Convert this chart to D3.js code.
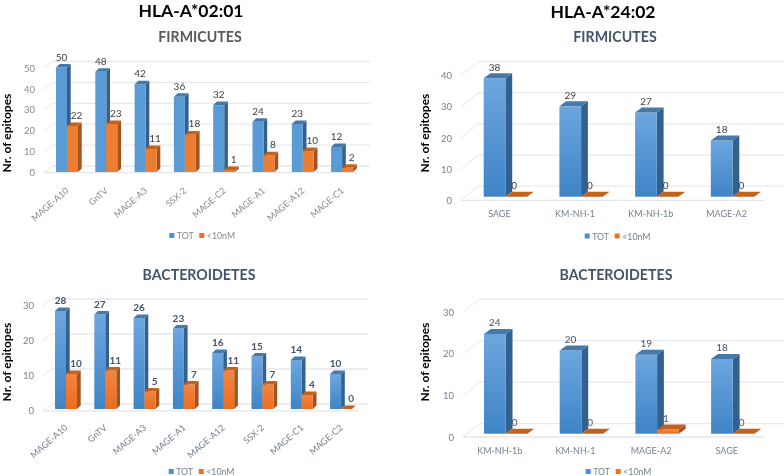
<!DOCTYPE html>
<html>
<head>
<meta charset="utf-8">
<script src="https://cdn.jsdelivr.net/npm/d3@7"></script>
<style>
	html, body { margin: 0; padding: 0; background: #fff; }
	svg { display: block; filter: blur(0.3px); }
	text { font-family: Lato, "Open Sans", sans-serif; }
</style>
</head>
<body>
<svg></svg>
<script>
//chart values
const seriesNames = ["TOT", "<10nM"];

const a0201FirmCategories = ["MAGE-A10", "GnTV", "MAGE-A3", "SSX-2", "MAGE-C2", "MAGE-A1", "MAGE-A12", "MAGE-C1"];
const a0201FirmTot = [50, 48, 42, 36, 32, 24, 23, 12];
const a0201FirmLow = [22, 23, 11, 18, 1, 8, 10, 2];
const a0201FirmTicks = [0, 10, 20, 30, 40, 50];

const a0201BactCategories = ["MAGE-A10", "GnTV", "MAGE-A3", "MAGE-A1", "MAGE-A12", "SSX-2", "MAGE-C1", "MAGE-C2"];
const a0201BactTot = [28, 27, 26, 23, 16, 15, 14, 10];
const a0201BactLow = [10, 11, 5, 7, 11, 7, 4, 0];
const a0201BactTicks = [0, 10, 20, 30];

const a2402FirmCategories = ["SAGE", "KM-NH-1", "KM-NH-1b", "MAGE-A2"];
const a2402FirmTot = [38, 29, 27, 18];
const a2402FirmLow = [0, 0, 0, 0];
const a2402FirmTicks = [0, 10, 20, 30, 40];

const a2402BactCategories = ["KM-NH-1b", "KM-NH-1", "MAGE-A2", "SAGE"];
const a2402BactTot = [24, 20, 19, 18];
const a2402BactLow = [0, 0, 1, 0];
const a2402BactTicks = [0, 10, 20, 30];

const [w, h] = [784, 476];
const slate = "#44546a";

const headings = [
	{text: "HLA-A*02:01", x: 191, y: 10},
	{text: "HLA-A*24:02", x: 603, y: 11.5}
];

//Where each panel sits on the page
const panels = [
	{
		title: "FIRMICUTES", titleX: 200, titleY: 36, titleColor: "#595959",
		categories: a0201FirmCategories, tot: a0201FirmTot, low: a0201FirmLow, ticks: a0201FirmTicks,
		base: 172, unit: 2.09, left: 56, step: 39.3, barW: 11, depth: [3.7, 3.5],
		wall: [9, 6], wallRight: 370, floorRight: 357, tickRight: 35, tickDy: 0.6, tickColor: "#8a8a8a",
		labelColor: "#404040", labelWeight: 400, lowLabelDx: 4, totLabelDx: 0, labelDy: 11,
		rotate: true, catColor: "#8a8a8a", titleAxisX: 6, titleAxisY: 133, legendX: 169.3, legendY: 235.5,
		flat: true
	},
	{
		title: "BACTEROIDETES", titleX: 199, titleY: 274, titleColor: slate,
		categories: a0201BactCategories, tot: a0201BactTot, low: a0201BactLow, ticks: a0201BactTicks,
		base: 409, unit: 3.5, left: 55, step: 39.3, barW: 11, depth: [3.7, 3.5],
		wall: [9, 5], wallRight: 368, floorRight: 358, tickRight: 34, tickDy: 1.8, tickColor: "#76808f",
		labelColor: slate, labelWeight: 700, lowLabelDx: 4.5, totLabelDx: 0, labelDy: 11,
		rotate: true, catColor: "#76808f", titleAxisX: 6, titleAxisY: 362, legendX: 168.7, legendY: 471.5
	},
	{
		title: "FIRMICUTES", titleX: 615, titleY: 36, titleColor: slate,
		categories: a2402FirmCategories, tot: a2402FirmTot, low: a2402FirmLow, ticks: a2402FirmTicks,
		base: 196.7, unit: 3.116, left: 483.7, step: 75.7, barW: 21.7, depth: [6.8, 5],
		wall: [17, 10.5], wallRight: 784, floorRight: 764, tickRight: 452, tickDy: 3.7, tickColor: "#76808f",
		labelColor: "#404040", labelWeight: 400, lowLabelDx: -2, totLabelDx: 0, labelDy: 11.5,
		rotate: false, catColor: "#76808f", titleAxisX: 424, titleAxisY: 133, legendX: 584.7, legendY: 236
	},
	{
		title: "BACTEROIDETES", titleX: 616, titleY: 274, titleColor: slate,
		categories: a2402BactCategories, tot: a2402BactTot, low: a2402BactLow, ticks: a2402BactTicks,
		base: 433.7, unit: 4.155, left: 484, step: 75.7, barW: 21.7, depth: [6.8, 5],
		wall: [17, 10], wallRight: 784, floorRight: 764, tickRight: 454, tickDy: 3.3, tickColor: "#76808f",
		labelColor: slate, labelWeight: 400, lowLabelDx: -2, totLabelDx: 0, labelDy: 11.5,
		rotate: false, catColor: "#76808f", titleAxisX: 424, titleAxisY: 362, legendX: 585.7, legendY: 471.5
	}
];

const svg = d3.select("svg").attr("width", w).attr("height", h);

//Bar fills
const defs = svg.append("defs");
const addGradient = (id, top, bottom) => {
	const g = defs.append("linearGradient").attr("id", id).attr("x1", 0).attr("y1", 0).attr("x2", 0).attr("y2", 1);
	g.append("stop").attr("offset", "0%").attr("stop-color", top);
	g.append("stop").attr("offset", "100%").attr("stop-color", bottom);
};
addGradient("blueGrad", "#6ca6df", "#3f84c6");
addGradient("orangeGrad", "#f28542", "#ec6c1e");

const colours = {
	front: ["url(#blueGrad)", "url(#orangeGrad)"],
	flat: ["#5b9bd5", "#ed7d31"],
	side: ["#33618f", "#a5521b"],
	top: ["#4679a8", "#c2621f"],
	legend: ["#4a90d0", "#ed7026"]
};

svg.selectAll("text.heading").data(headings).enter().append("text")
	.attr("class", "heading")
	.attr("x", d => d.x).attr("y", d => d.y)
	.attr("text-anchor", "middle").attr("dominant-baseline", "central")
	.attr("font-size", 17.5).attr("font-weight", 700).attr("fill", "#000")
	.text(d => d.text);

panels.forEach(drawPanel);

function drawPanel(p) {
	const g = svg.append("g");
	const maxTick = d3.max(p.ticks);

	//Create the xScale and the yScale
	const yScale = d3.scaleLinear().domain([0, maxTick]).range([p.base, p.base - maxTick * p.unit]);
	const n = p.categories.length;
	const xStart = p.left - (p.step - 2 * p.barW) / 2;
	const xScale = d3.scaleBand().domain(p.categories)
		.range([xStart, xStart + n * p.step])
		.paddingInner(1 - 2 * p.barW / p.step).paddingOuter((1 - 2 * p.barW / p.step) / 2);
	const xSeries = d3.scaleBand().domain(seriesNames).range([0, xScale.bandwidth()]);

	//Back wall and floor
	const [wallX, wallY] = p.wall;
	const gridLeft = p.tickRight + 9 + wallX;
	g.selectAll("line.grid").data(p.ticks).enter().append("line")
		.attr("x1", gridLeft).attr("x2", p.wallRight)
		.attr("y1", d => yScale(d) - wallY).attr("y2", d => yScale(d) - wallY)
		.attr("stroke", "#e6e9f0").attr("stroke-width", 1.3);
	g.selectAll("line.diag").data(p.ticks).enter().append("line")
		.attr("x1", gridLeft - wallX).attr("x2", gridLeft)
		.attr("y1", d => yScale(d) + p.tickDy).attr("y2", d => yScale(d) - wallY)
		.attr("stroke", "#eceef3").attr("stroke-width", 1.2);
	g.append("line")
		.attr("x1", gridLeft - wallX).attr("x2", p.floorRight)
		.attr("y1", yScale(0) + p.tickDy).attr("y2", yScale(0) + p.tickDy)
		.attr("stroke", "#e3e6ed").attr("stroke-width", 1.3);

	//Tick labels
	const yAxis = d3.axisLeft(yScale).tickValues(p.ticks).tickSize(0).tickPadding(0);
	const axisG = g.append("g").attr("transform", `translate(${p.tickRight}, ${p.tickDy})`).call(yAxis);
	axisG.select(".domain").remove();
	axisG.selectAll("text").attr("font-size", 9.5).attr("fill", p.tickColor).style("font-family", "Lato");

	//Create the shapes
	const [dx, dy] = p.depth;
	const values = [p.tot, p.low];
	p.categories.forEach((cat, i) => {
		seriesNames.forEach((name, s) => {
			const v = values[s][i];
			const x0 = xScale(cat) + xSeries(name);
			const x1 = x0 + xSeries.bandwidth();
			const yTop = yScale(v);
			const yBot = yScale(0);
			if (v > 0) {
				g.append("path")
					.attr("d", `M${x1},${yTop}L${x1 + dx},${yTop - dy}L${x1 + dx},${yBot - dy}L${x1},${yBot}Z`)
					.attr("fill", colours.side[s]);
				g.append("rect")
					.attr("x", x0).attr("y", yTop).attr("width", x1 - x0).attr("height", yBot - yTop)
					.attr("fill", p.flat ? colours.flat[s] : colours.front[s]);
			}
			g.append("path")
				.attr("d", `M${x0},${yTop}L${x0 + dx},${yTop - dy}L${x1 + dx},${yTop - dy}L${x1},${yTop}Z`)
				.attr("fill", colours.top[s]);
		});
	});

	//Value labels go last so the bars never hide them
	p.categories.forEach((cat, i) => {
		seriesNames.forEach((name, s) => {
			g.append("text")
				.attr("x", xScale(cat) + xSeries(name) + xSeries.bandwidth() / 2 + (s ? p.lowLabelDx : p.totLabelDx))
				.attr("y", yScale(values[s][i]) - p.labelDy)
				.attr("text-anchor", "middle").attr("dominant-baseline", "central")
				.attr("font-size", 10).attr("font-weight", p.labelWeight).attr("fill", p.labelColor)
				.text(values[s][i]);
		});
	});

	//Category labels
	g.selectAll("text.cat").data(p.categories).enter().append("text")
		.attr("class", "cat")
		.attr("font-size", 9).attr("fill", p.catColor)
		.attr("text-anchor", p.rotate ? "end" : "middle")
		.attr("dominant-baseline", "central")
		.attr("transform", d => {
			const cx = xScale(d) + xScale.bandwidth() / 2;
			return p.rotate
				? `translate(${cx}, ${p.base + 17}) rotate(-41)`
				: `translate(${cx - 6}, ${p.base + 16.5})`;
		})
		.text(d => d);

	g.append("text")
		.attr("transform", `translate(${p.titleAxisX}, ${p.titleAxisY}) rotate(-90)`)
		.attr("text-anchor", "middle").attr("dominant-baseline", "central")
		.attr("font-size", 12).attr("font-weight", 700).attr("fill", "#000")
		.text("Nr. of epitopes");

	g.append("text")
		.attr("x", p.titleX).attr("y", p.titleY)
		.attr("text-anchor", "middle").attr("dominant-baseline", "central")
		.attr("font-size", 14.2).attr("font-weight", 700).attr("fill", p.titleColor)
		.text(p.title);

	//Legend
	const legendX = d3.scalePoint().domain(seriesNames).range([p.legendX, p.legendX + 30]);
	seriesNames.forEach((name, s) => {
		g.append("rect")
			.attr("x", legendX(name)).attr("y", p.legendY - 2.5).attr("width", 5).attr("height", 5)
			.attr("fill", colours.legend[s]);
		g.append("text")
			.attr("x", legendX(name) + 7.5).attr("y", p.legendY)
			.attr("dominant-baseline", "central")
			.attr("font-size", 8.8).attr("fill", p.catColor)
			.text(name);
	});
}
</script>
</body>
</html>
